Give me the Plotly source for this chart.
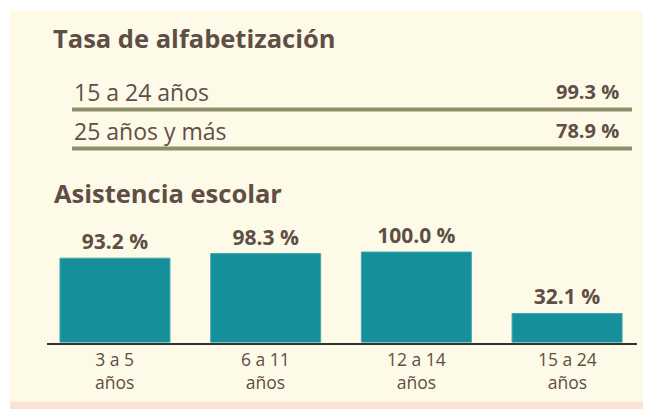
import plotly.graph_objects as go

# datos
lit_labels = ["15 a 24 años", "25 años y más"]
lit_values = [99.3, 78.9]
asis_labels = ["3 a 5<br>años", "6 a 11<br>años", "12 a 14<br>años", "15 a 24<br>años"]
asis_values = [93.2, 98.3, 100.0, 32.1]

# the page body adds an 8px margin, so the figure is drawn 8px smaller
OFF = 8
W, H = 651 - OFF, 409 - OFF
txt = "#5f4e46"
teal = "#15909a"
olive = "#8e906a"
cream = "#fefae8"
font = "Open Sans"

def fx(px):
    return (px - OFF) / W

def fy(py):
    return (H - (py - OFF)) / H

fig = go.Figure()

# barras asistencia escolar
fig.add_trace(go.Bar(
    x=list(range(len(asis_values))), y=asis_values,
    marker=dict(color=teal, line=dict(color="#45a8b0", width=1)),
    texttemplate="%{y:.1f} %", textposition="outside",
    textfont=dict(family=font, size=21, color=txt, weight=700),
    cliponaxis=False, xaxis="x", yaxis="y", showlegend=False,
))

# lineas de la tasa de alfabetizacion
for i, lab in enumerate(lit_labels):
    fig.add_trace(go.Scatter(
        x=[0, 1], y=[i + 0.46, i + 0.46], mode="lines",
        line=dict(color=olive, width=4), xaxis="x2", yaxis="y2",
        showlegend=False, hoverinfo="skip",
    ))

ann = []
for i, (lab, val) in enumerate(zip(lit_labels, lit_values)):
    ann.append(dict(x=0, y=i, xref="x2", yref="y2", text=lab, showarrow=False,
                    xanchor="left", yanchor="middle",
                    font=dict(family=font, size=23, color=txt)))
    ann.append(dict(x=1, y=i, xref="x2", yref="y2", text=f"{val:.1f} %", showarrow=False,
                    xanchor="right", yanchor="middle", xshift=-11,
                    font=dict(family=font, size=20, color=txt, weight=700)))

for i, lab in enumerate(asis_labels):
    ann.append(dict(x=i, y=fy(370), xref="x", yref="paper", text=lab, showarrow=False,
                    yanchor="middle", font=dict(family=font, size=17.5, color=txt)))

ann.append(dict(x=fx(51), y=fy(38), xref="paper", yref="paper", text="Tasa de alfabetización",
                showarrow=False, xanchor="left", yanchor="middle",
                font=dict(family=font, size=25.5, color=txt, weight=700)))
ann.append(dict(x=fx(52), y=fy(193), xref="paper", yref="paper", text="Asistencia escolar",
                showarrow=False, xanchor="left", yanchor="middle",
                font=dict(family=font, size=25.5, color=txt, weight=700)))

# white strips at top/left, pink band at the bottom
shapes = [
    dict(type="rect", xref="paper", yref="paper", x0=0, x1=1, y0=fy(10.5), y1=1,
         fillcolor="white", line=dict(width=0), layer="below"),
    dict(type="rect", xref="paper", yref="paper", x0=0, x1=fx(10), y0=0, y1=1,
         fillcolor="white", line=dict(width=0), layer="below"),
    dict(type="rect", xref="paper", yref="paper", x0=fx(10), x1=1.02, y0=0, y1=fy(401.5),
         fillcolor="#f9e3d3", line=dict(width=0), layer="below"),
]

fig.update_layout(
    width=W, height=H, margin=dict(l=0, r=0, t=0, b=0),
    paper_bgcolor=cream, plot_bgcolor="rgba(0,0,0,0)",
    bargap=0.27,
    xaxis=dict(domain=[fx(47), fx(637)], range=[-0.451, 3.464],
               showticklabels=False, showline=True, linecolor="#333333", linewidth=1.5,
               showgrid=False, zeroline=False, ticks="", fixedrange=True),
    yaxis=dict(domain=[fy(342.5), fy(200)], range=[0, 157.5], visible=False, fixedrange=True),
    xaxis2=dict(domain=[fx(72), fx(632)], range=[0, 1], visible=False, anchor="y2"),
    yaxis2=dict(domain=[fy(160), fy(70)], range=[1.756, -0.551], visible=False, anchor="x2"),
    annotations=ann, shapes=shapes,
)

fig.write_html("out.html")
